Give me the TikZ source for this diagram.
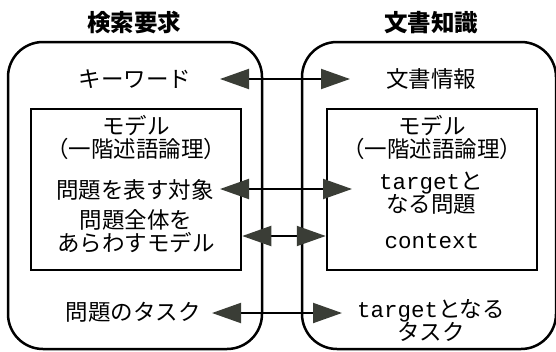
\documentclass[tikz,border=0pt]{standalone}
\usepackage{fontspec}
\setmainfont{Noto Sans CJK JP}
\newfontfamily\monof{Liberation Mono}
\usetikzlibrary{arrows.meta}
\definecolor{tipc}{HTML}{3A3D36}
\tikzset{
  outerbox/.style={draw, line width=2.5pt, rounded corners=35pt, minimum width=254pt, minimum height=307pt, inner sep=0pt},
  innerbox/.style={draw, line width=2.5pt, minimum width=210pt, minimum height=161pt, inner sep=0pt},
  ttl/.style={font=\fontsize{23.5}{25}\selectfont\bfseries, inner sep=0pt},
  txt/.style={font=\fontsize{22.5}{23}\selectfont, align=center, inner sep=0pt},
  biarrow/.style={line width=2pt, {Triangle[length=29pt,width=20pt,color=tipc,fill=tipc]}-{Triangle[length=29pt,width=20pt,color=tipc,fill=tipc]}}
}
\begin{document}
\begin{tikzpicture}[x=1pt,y=-1pt]
\useasboundingbox (0,0) rectangle (556,351);
% outer boxes
\node[outerbox] (L) at (135,195.5) {};
\node[outerbox] (R) at (429,195.5) {};
% titles
\node[ttl] (tL) at (134,23) {検索要求};
\node[ttl] (tR) at (431,23) {文書知識};
% inner boxes
\node[innerbox] (iL) at (136,189.5) {};
\node[innerbox] (iR) at (432,189.5) {};
% left texts
\node[txt] (kw) at (135,79) {キーワード};
\node[txt] (mL) at (136,137) {モデル\\（一階述語論理）};
\node[txt] (obj) at (135,190) {問題を表す対象};
\node[txt] (whole) at (136,231) {問題全体を\\あらわすモデル};
\node[txt] (task) at (133,312) {問題のタスク};
% right texts
\node[txt] (doc) at (431,79) {文書情報};
\node[txt] (mR) at (432,137) {モデル\\（一階述語論理）};
\node[txt] (tgt) at (431,193) {{\monof target}と\\なる問題};
\node[txt] (ctx) at (432,241) {\monof context};
\node[txt] (ttask) at (431,320) {{\monof target}となる\\タスク};
% arrow ends
\coordinate (a1l) at (220,79);
\coordinate (a1r) at (350,79);
\coordinate (a2l) at (220,189);
\coordinate (a2r) at (352,189);
\coordinate (a4l) at (212,313);
\coordinate (a4r) at (342,313);
% arrows
\draw[biarrow] (a1l) -- (a1r);
\draw[biarrow] (a2l) -- (a2r);
\draw[biarrow] (iL.east |- 0,236) -- (iR.west |- 0,236);
\draw[biarrow] (a4l) -- (a4r);
\end{tikzpicture}
\end{document}
